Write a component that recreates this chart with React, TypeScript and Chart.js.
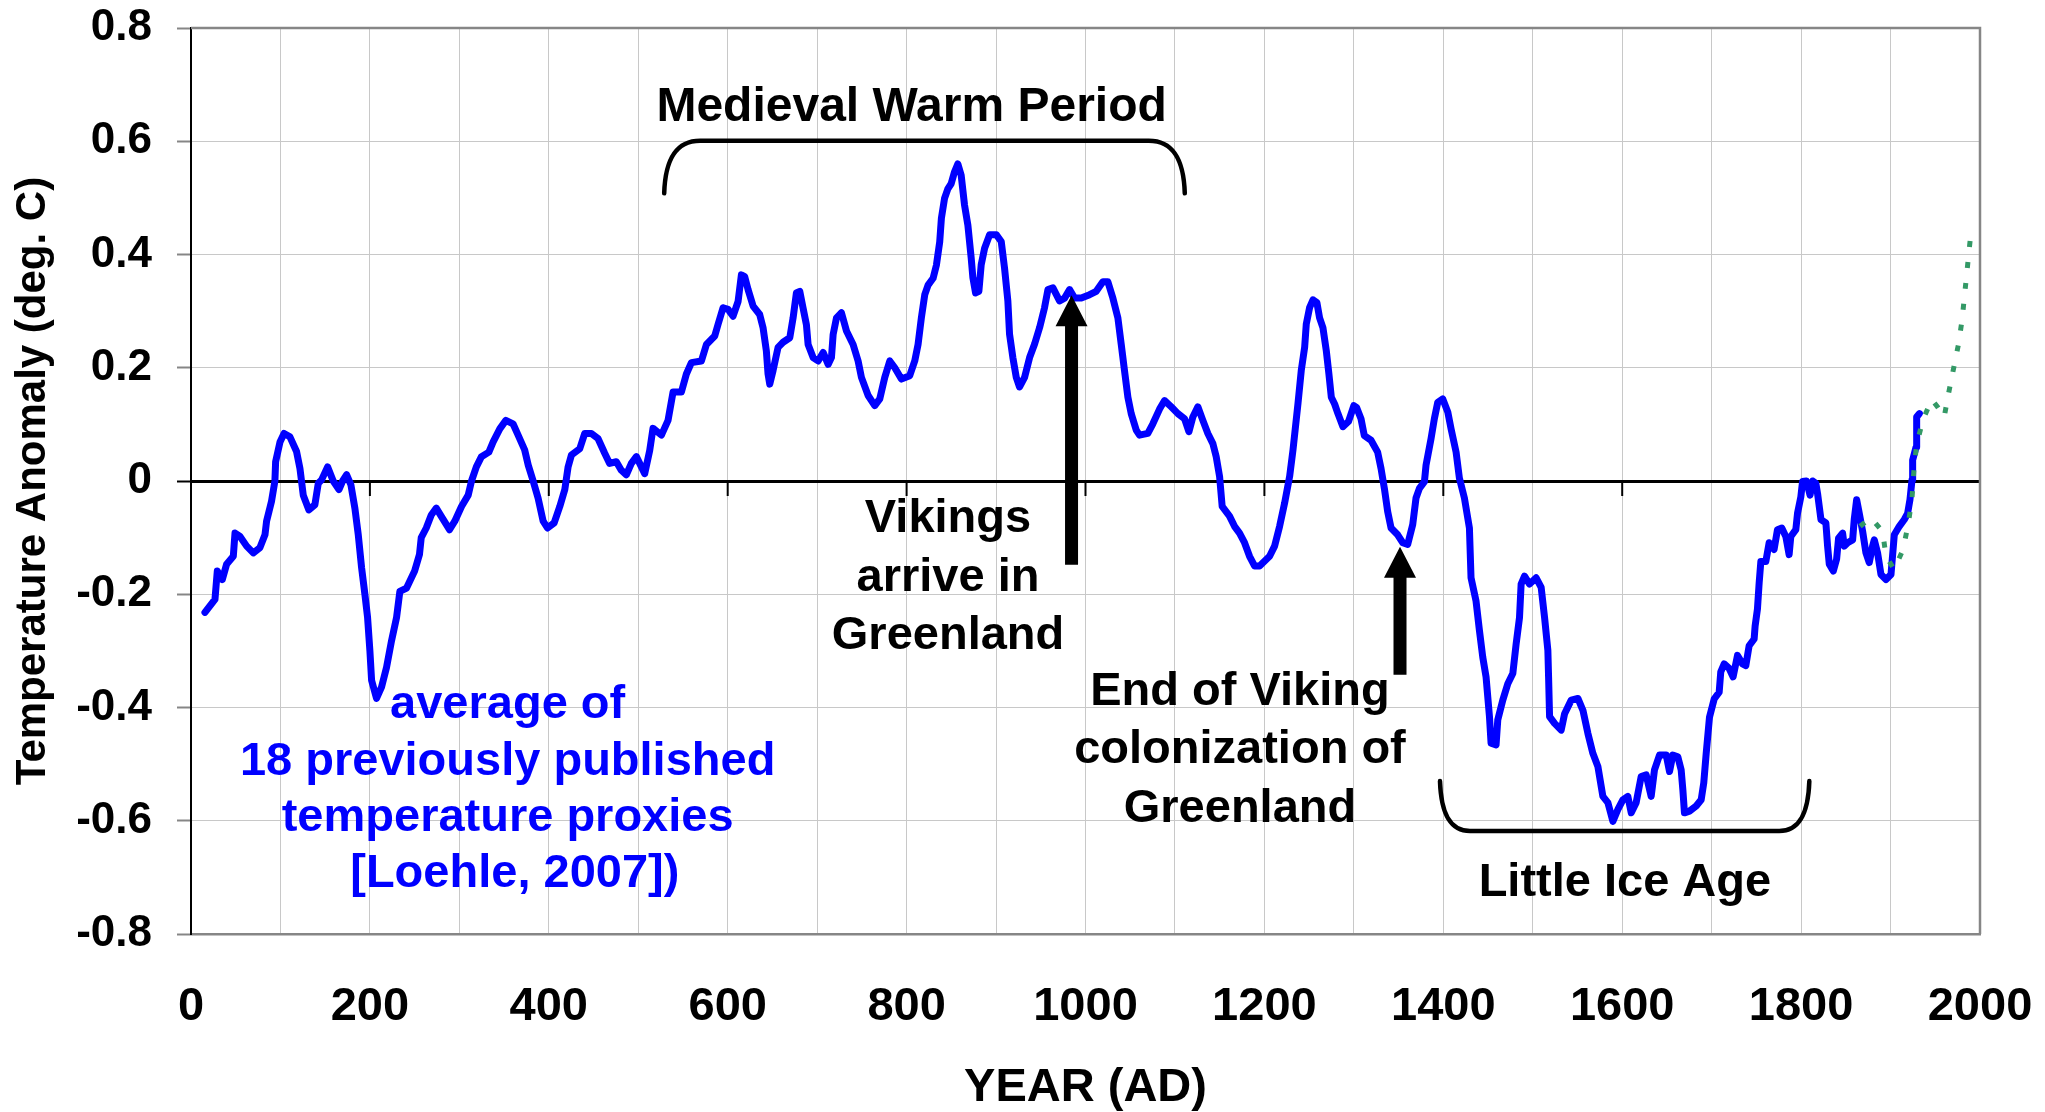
import React, { useEffect, useRef } from 'react';
import { Chart, registerables } from 'chart.js';

Chart.register(...registerables);

// ---- Data: Loehle (2007) average of 18 proxies ----
const proxyYears = [
  15.6, 26.8, 29.4, 35, 39.8, 47.3, 49.2, 54.8, 62.2, 69.6, 77, 82.7, 84.5, 90, 93.8, 94.6, 99.5, 104, 110.6, 118,
  121.8, 125.5, 131.8, 138.5, 142.3, 146, 152.7, 159, 165.4, 169.5, 174, 178.8, 183.2, 187, 190.7, 194.4, 197.4, 200, 201.9, 207.4,
  213, 218.6, 224.2, 229.8, 233.5, 241, 250, 255.4, 257.4, 263, 268.6, 274.2, 280, 289, 294.9, 302.4, 309.9, 313.6, 319, 324.7,
  333, 337.8, 345.2, 352, 360, 365.7, 373, 377, 382.5, 388, 393.7, 398.5, 406, 412.3, 417.9, 421.6, 425.3, 434.6, 440.2, 447.6,
  455, 462.5, 468, 475.5, 481, 486.7, 492.3, 497.9, 507.2, 512.8, 516.5, 525.9, 533.3, 538.9, 548.2, 553.8, 559.4, 570.6, 576.2, 585.5,
  589.3, 594.8, 600.4, 606, 611.6, 615.3, 619, 622.8, 628.4, 635.8, 639.5, 643.2, 645.1, 647, 650.7, 656.3, 661.9, 669.4, 673.1, 676.8,
  680.6, 684.3, 688, 689.9, 695.5, 701.1, 706.7, 712.3, 716, 717.9, 721.6, 727.2, 732.8, 740.2, 745.8, 749.5, 757, 764.4, 770, 775.6,
  781.2, 786.8, 794.2, 803.5, 809.1, 812.8, 816.5, 820.3, 824, 829.6, 833.3, 837, 838.9, 842.4, 846.1, 849.8, 853.6, 857.3, 861, 864.8,
  868.5, 872.2, 874.1, 877.1, 880.8, 883.4, 887.2, 892.8, 900.2, 905.8, 909.5, 913.2, 915.1, 918.8, 922.6, 926.3, 931.9, 937.5, 943.1, 948.7,
  954.2, 958, 963.6, 971, 976.6, 982.2, 987.8, 995.3, 1004.6, 1012, 1019.4, 1025, 1030.6, 1036.2, 1039.9, 1043.6, 1047.4, 1051.1, 1056.7, 1060.4,
  1069.7, 1075.3, 1082.8, 1088.4, 1095.8, 1103.3, 1110.7, 1115.6, 1120, 1125.6, 1131.2, 1136.8, 1142.4, 1146.1, 1149.9, 1152.8, 1161, 1166.6, 1172.2, 1177.8,
  1183.4, 1189, 1194.6, 1205.8, 1211.4, 1217, 1222.6, 1228.2, 1231.9, 1237.5, 1241.2, 1245, 1246.8, 1250.5, 1254.3, 1258.7, 1261.7, 1265.4, 1269.2, 1272.1,
  1274.8, 1278.5, 1282.2, 1287.8, 1294, 1300, 1303, 1308, 1311.7, 1319.2, 1326.6, 1330.4, 1334.1, 1337.8, 1341.6, 1349, 1354.6, 1360.2, 1365.8, 1369.5,
  1373.3, 1378.9, 1380.7, 1386.3, 1390, 1393.8, 1399.4, 1405, 1408.7, 1414.3, 1418, 1423.6, 1429.2, 1431, 1436.6, 1440.4, 1444.1, 1447.8, 1451.6, 1453.4,
  1459, 1460.9, 1466.5, 1472.1, 1477.7, 1481.4, 1485.2, 1487, 1490.8, 1496.4, 1503.8, 1509.4, 1513.2, 1516.9, 1517.7, 1518.8, 1524.4, 1531.8, 1535.6, 1543,
  1550.5, 1556.1, 1561.7, 1567.2, 1572.8, 1578.4, 1584, 1589.6, 1595.2, 1600.7, 1606.3, 1610.1, 1615.6, 1621.2, 1626.8, 1632.4, 1636.1, 1641.7, 1649.2, 1652.9,
  1656.6, 1662.2, 1665.9, 1667.8, 1669.6, 1675.2, 1682.7, 1688.3, 1691.2, 1693.9, 1697.6, 1702.8, 1708.4, 1710.2, 1714, 1719.6, 1724, 1728.9, 1734.5, 1738.2,
  1741.9, 1747.5, 1748.6, 1751.2, 1753.1, 1755, 1760.6, 1764.3, 1769.8, 1773.6, 1778.4, 1782.9, 1786.6, 1788.5, 1794.1, 1796, 1799.7, 1801.6, 1806, 1810,
  1813, 1816.5, 1818.4, 1822.2, 1827.7, 1829.6, 1831.5, 1836, 1839.7, 1841.9, 1846.4, 1848.3, 1852, 1857.6, 1859.4, 1862.1, 1865, 1868.8, 1872.5, 1876.2,
  1879.9, 1881.8, 1885.5, 1889.3, 1894.9, 1900.5, 1904.2, 1909.8, 1915.4, 1919.1, 1921.7, 1924, 1924.7, 1928.5, 1929.2, 1932.2,
];
const proxyValues = [
  -0.232, -0.209, -0.159, -0.174, -0.147, -0.133, -0.092, -0.098, -0.115, -0.127, -0.118, -0.095, -0.071, -0.036, 0.0, 0.034, 0.069, 0.084, 0.078, 0.052,
  0.022, -0.025, -0.051, -0.042, -0.004, 0.002, 0.025, 0.0, -0.015, 0.0, 0.011, -0.007, -0.048, -0.095, -0.153, -0.2, -0.241, -0.3, -0.352, -0.384,
  -0.364, -0.329, -0.282, -0.241, -0.195, -0.189, -0.159, -0.13, -0.1, -0.083, -0.06, -0.048, -0.063, -0.086, -0.071, -0.045, -0.025, 0.0, 0.025, 0.043,
  0.051, 0.069, 0.092, 0.107, 0.101, 0.081, 0.055, 0.028, 0.0, -0.03, -0.071, -0.083, -0.074, -0.045, -0.015, 0.025, 0.046, 0.057, 0.084, 0.084,
  0.075, 0.049, 0.031, 0.034, 0.019, 0.011, 0.031, 0.043, 0.013, 0.054, 0.093, 0.081, 0.107, 0.157, 0.157, 0.189, 0.209, 0.212, 0.241, 0.256,
  0.277, 0.306, 0.303, 0.291, 0.317, 0.364, 0.361, 0.338, 0.309, 0.294, 0.271, 0.23, 0.189, 0.171, 0.195, 0.236, 0.245, 0.253, 0.288, 0.332,
  0.335, 0.305, 0.276, 0.241, 0.218, 0.212, 0.227, 0.206, 0.218, 0.259, 0.288, 0.297, 0.265, 0.241, 0.212, 0.183, 0.151, 0.133, 0.145, 0.183,
  0.212, 0.2, 0.18, 0.186, 0.212, 0.241, 0.288, 0.329, 0.346, 0.358, 0.381, 0.422, 0.464, 0.499, 0.516, 0.525, 0.546, 0.56, 0.54, 0.487,
  0.452, 0.394, 0.359, 0.332, 0.335, 0.382, 0.411, 0.435, 0.435, 0.423, 0.376, 0.318, 0.259, 0.218, 0.183, 0.166, 0.183, 0.218, 0.242, 0.271,
  0.306, 0.338, 0.341, 0.318, 0.323, 0.338, 0.323, 0.323, 0.329, 0.335, 0.352, 0.352, 0.323, 0.288, 0.242, 0.195, 0.148, 0.119, 0.09, 0.081,
  0.084, 0.101, 0.127, 0.142, 0.131, 0.119, 0.11, 0.087, 0.113, 0.131, 0.107, 0.084, 0.066, 0.043, 0.008, -0.045, -0.062, -0.08, -0.092, -0.109,
  -0.133, -0.15, -0.15, -0.133, -0.115, -0.08, -0.039, 0.008, 0.054, 0.136, 0.195, 0.236, 0.277, 0.306, 0.32, 0.315, 0.288, 0.271, 0.23, 0.189,
  0.148, 0.136, 0.119, 0.096, 0.105, 0.133, 0.13, 0.11, 0.08, 0.072, 0.051, 0.022, -0.013, -0.054, -0.083, -0.095, -0.109, -0.112, -0.077, -0.03,
  -0.013, -0.001, 0.028, 0.075, 0.11, 0.139, 0.145, 0.122, 0.092, 0.051, 0.005, -0.03, -0.083, -0.171, -0.212, -0.264, -0.311, -0.346, -0.416, -0.463,
  -0.466, -0.422, -0.387, -0.358, -0.34, -0.288, -0.241, -0.182, -0.168, -0.182, -0.171, -0.188, -0.241, -0.299, -0.346, -0.416, -0.428, -0.44, -0.411, -0.387,
  -0.384, -0.405, -0.446, -0.481, -0.504, -0.557, -0.568, -0.601, -0.58, -0.563, -0.557, -0.586, -0.568, -0.522, -0.519, -0.557, -0.51, -0.484, -0.484, -0.513,
  -0.484, -0.487, -0.51, -0.545, -0.586, -0.583, -0.574, -0.563, -0.533, -0.481, -0.417, -0.385, -0.373, -0.337, -0.323, -0.331, -0.346, -0.308, -0.323, -0.326,
  -0.291, -0.279, -0.256, -0.226, -0.18, -0.142, -0.142, -0.109, -0.121, -0.086, -0.083, -0.098, -0.13, -0.098, -0.086, -0.057, -0.028, -0.001, 0.0, -0.025,
  0.0, -0.004, -0.022, -0.068, -0.074, -0.115, -0.147, -0.159, -0.138, -0.101, -0.092, -0.115, -0.109, -0.104, -0.068, -0.033, -0.057, -0.089, -0.127, -0.144,
  -0.115, -0.104, -0.127, -0.165, -0.174, -0.165, -0.095, -0.08, -0.068, -0.057, -0.033, 0.002, 0.037, 0.06, 0.113, 0.119,
];

// ---- Data: instrumental record (green dotted) ----
const instrYears = [1866, 1878, 1891, 1895, 1904, 1914, 1920, 1924, 1926, 1929, 1936, 1946, 1953, 1960, 1964, 1970, 1976, 1980, 1983, 1986, 1989];
const instrValues = [-0.08, -0.065, -0.089, -0.133, -0.156, -0.121, -0.074, -0.03, 0.016, 0.063, 0.107, 0.144, 0.13, 0.113, 0.148, 0.195, 0.242, 0.285, 0.332, 0.379, 0.425];

// ---- Axis ticks ----
const xLabelYears = [0, 200, 400, 600, 800, 1000, 1200, 1400, 1600, 1800, 2000];
const zeroLineTickYears = [0, 200, 400, 600, 800, 1000, 1200, 1400, 1600, 1800, 2000];

// ---- Annotations (data units) ----
const mwpLabel = { text: 'Medieval Warm Period', year: 805.6, value: 0.635 };
const mwpBracket = { from: 529, to: 1111, end: 0.508, edge: 0.601 };
const liaLabel = { text: 'Little Ice Age', year: 1603, value: -0.733 };
const liaBracket = { from: 1396.3, to: 1809.2, end: -0.53, edge: -0.618 };
const arriveLines = ['Vikings', 'arrive in', 'Greenland'];
const arriveLineValues = [-0.09, -0.194, -0.297];
const arriveYear = 846.3;
const arriveArrow = { year: 984.4, tip: 0.328, base: -0.148 };
const endLines = ['End of Viking', 'colonization of', 'Greenland'];
const endLineValues = [-0.395, -0.498, -0.602];
const endYear = 1172.7;
const endArrow = { year: 1351.6, tip: -0.116, base: -0.342 };
const sourceLines = ['average of', '18 previously published', 'temperature proxies', '[Loehle, 2007])'];
const sourceLineYears = [354, 354, 354, 362];
const sourceLineValues = [-0.418, -0.519, -0.618, -0.717];

const FONT = '"Liberation Sans", Arial, sans-serif';

const overlayPlugin = {
  id: 'overlay',
  beforeDatasetsDraw(chart: any) {
    const { ctx, scales } = chart;
    const x = scales.x, y = scales.y;
    const y0 = y.getPixelForValue(0);
    ctx.save();
    ctx.strokeStyle = '#000';
    ctx.lineWidth = 2;
    for (const t of zeroLineTickYears) {
      const px = x.getPixelForValue(t);
      ctx.beginPath();
      ctx.moveTo(px, y0);
      ctx.lineTo(px, y0 + 15);
      ctx.stroke();
    }
    ctx.restore();
  },
  afterDatasetsDraw(chart: any) {
    const { ctx, chartArea: a, scales } = chart;
    const x = scales.x, y = scales.y;
    ctx.save();
    // plot-area frame (top / right)
    ctx.strokeStyle = '#868686';
    ctx.lineWidth = 2.5;
    ctx.beginPath();
    ctx.moveTo(a.left, a.top);
    ctx.lineTo(a.right, a.top);
    ctx.lineTo(a.right, a.bottom);
    ctx.stroke();

    // brackets
    ctx.strokeStyle = '#000';
    ctx.lineWidth = 4.5;
    ctx.lineCap = 'round';
    const bracket = (b: any, rx: number) => {
      const x1 = x.getPixelForValue(b.from), x2 = x.getPixelForValue(b.to);
      const ye = y.getPixelForValue(b.end), yd = y.getPixelForValue(b.edge);
      const dir = Math.sign(ye - yd);
      const dy = Math.abs(ye - yd);
      ctx.beginPath();
      ctx.moveTo(x1, ye);
      ctx.bezierCurveTo(x1 + 1, yd + dir * dy * 0.38, x1 + rx * 0.3, yd, x1 + rx, yd);
      ctx.lineTo(x2 - rx, yd);
      ctx.bezierCurveTo(x2 - rx * 0.3, yd, x2 - 1, yd + dir * dy * 0.38, x2, ye);
      ctx.stroke();
    };
    bracket(mwpBracket, 36);
    bracket(liaBracket, 30);

    // arrows
    ctx.fillStyle = '#000';
    const arrow = (ar: any) => {
      const px = x.getPixelForValue(ar.year);
      const ty = y.getPixelForValue(ar.tip);
      const by = y.getPixelForValue(ar.base);
      const hw = 16, hl = 31, sw = 6.5;
      ctx.beginPath();
      ctx.moveTo(px, ty);
      ctx.lineTo(px + hw, ty + hl);
      ctx.lineTo(px + sw, ty + hl);
      ctx.lineTo(px + sw, by);
      ctx.lineTo(px - sw, by);
      ctx.lineTo(px - sw, ty + hl);
      ctx.lineTo(px - hw, ty + hl);
      ctx.closePath();
      ctx.fill();
    };
    arrow(arriveArrow);
    arrow(endArrow);

    // texts
    ctx.textAlign = 'center';
    ctx.textBaseline = 'alphabetic';
    ctx.fillStyle = '#000';
    ctx.font = `bold 48px ${FONT}`;
    ctx.fillText(mwpLabel.text, x.getPixelForValue(mwpLabel.year), y.getPixelForValue(mwpLabel.value));
    ctx.font = `bold 47px ${FONT}`;
    ctx.fillText(liaLabel.text, x.getPixelForValue(liaLabel.year), y.getPixelForValue(liaLabel.value));
    arriveLines.forEach((t, i) => ctx.fillText(t, x.getPixelForValue(arriveYear), y.getPixelForValue(arriveLineValues[i])));
    endLines.forEach((t, i) => ctx.fillText(t, x.getPixelForValue(endYear), y.getPixelForValue(endLineValues[i])));
    ctx.fillStyle = '#0000ff';
    sourceLines.forEach((t, i) => ctx.fillText(t, x.getPixelForValue(sourceLineYears[i]), y.getPixelForValue(sourceLineValues[i])));
    ctx.restore();
  },
};

export default function App() {
  const canvasRef = useRef<HTMLCanvasElement | null>(null);

  useEffect(() => {
    const canvas = canvasRef.current;
    if (!canvas) return;
    const proxyData = proxyYears.map((yr, i) => ({ x: yr, y: proxyValues[i] }));
    const instrData = instrYears.map((yr, i) => ({ x: yr, y: instrValues[i] }));

    const chart = new Chart(canvas, {
      type: 'line',
      data: {
        datasets: [
          {
            label: 'Instrumental',
            data: instrData,
            borderColor: '#339966',
            borderWidth: 5,
            borderDash: [6, 15],
            pointRadius: 0,
            tension: 0,
            fill: false,
          },
          {
            label: 'Loehle 2007',
            data: proxyData,
            borderColor: '#0000ff',
            borderWidth: 7,
            borderJoinStyle: 'round',
            borderCapStyle: 'round',
            pointRadius: 0,
            tension: 0,
            fill: false,
          },
        ],
      },
      options: {
        responsive: false,
        animation: false,
        devicePixelRatio: 1,
        layout: { padding: { left: 0, top: 28, right: 65, bottom: 0 } },
        plugins: {
          legend: { display: false },
          tooltip: { enabled: false },
        },
        scales: {
          x: {
            type: 'linear',
            min: 0,
            max: 2000,
            afterFit: (s: any) => {
              s.height = 178;
              s.paddingLeft = 0;
              s.paddingRight = 0;
              s.paddingTop = 0;
              s.paddingBottom = 0;
            },
            border: { display: true, color: '#868686', width: 2.5 },
            grid: { color: '#c8c8c8', lineWidth: 1, drawTicks: false },
            ticks: {
              stepSize: 100,
              autoSkip: false,
              maxRotation: 0,
              padding: 45,
              color: '#000',
              font: { family: FONT, size: 47, weight: 'bold' },
              callback: (v: any) => (xLabelYears.includes(Number(v)) ? String(v) : ''),
            },
            title: {
              display: true,
              text: 'YEAR (AD)',
              color: '#000',
              font: { family: FONT, size: 47, weight: 'bold', lineHeight: 1 },
              padding: { top: 0, bottom: 0 },
            },
          },
          y: {
            type: 'linear',
            min: -0.8,
            max: 0.8,
            afterFit: (s: any) => {
              s.width = 191;
              s.paddingLeft = 0;
              s.paddingRight = 0;
              s.paddingTop = 0;
              s.paddingBottom = 0;
            },
            border: { display: true, color: '#000', width: 2 },
            grid: {
              color: (c: any) => (c.tick && Math.abs(c.tick.value) < 1e-9 ? '#000' : '#c8c8c8'),
              lineWidth: (c: any) => (c.tick && Math.abs(c.tick.value) < 1e-9 ? 3 : 1),
              tickColor: (c: any) => (c.tick && Math.abs(c.tick.value) < 1e-9 ? '#000' : '#868686'),
              tickWidth: 2,
              tickLength: 14,
              drawTicks: true,
            },
            ticks: {
              stepSize: 0.2,
              padding: 25,
              color: '#000',
              font: { family: FONT, size: 44, weight: 'bold' },
              callback: (v: any) => (Math.abs(Number(v)) < 1e-9 ? '0' : Number(v).toFixed(1)),
            },
            title: {
              display: true,
              text: 'Temperature Anomaly (deg. C)',
              color: '#000',
              font: { family: FONT, size: 42, weight: 'bold', lineHeight: 1 },
              padding: { top: 12, bottom: 0 },
            },
          },
        },
      },
      plugins: [overlayPlugin],
    } as any);

    return () => chart.destroy();
  }, []);

  return (
    <div style={{ position: 'fixed', left: 0, top: 0, width: 2045, height: 1112, background: '#fff' }}>
      <canvas ref={canvasRef} width={2045} height={1112} style={{ width: 2045, height: 1112, display: 'block' }} />
    </div>
  );
}
